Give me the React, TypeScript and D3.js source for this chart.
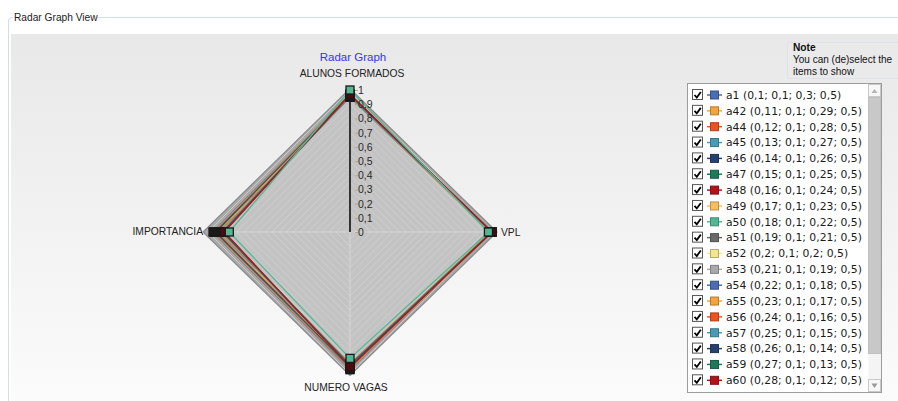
import React from "react";
import * as d3 from "d3";

const axes = ["ALUNOS FORMADOS", "VPL", "NUMERO VAGAS", "IMPORTANCIA"];
const ticks = [0, 0.1, 0.2, 0.3, 0.4, 0.5, 0.6, 0.7, 0.8, 0.9, 1];

const names = ["a1", "a42", "a44", "a45", "a46", "a47", "a48", "a49", "a50", "a51", "a52", "a53", "a54", "a55", "a56", "a57", "a58", "a59", "a60"];
const rawValues = [
  "0,1; 0,1; 0,3; 0,5", "0,11; 0,1; 0,29; 0,5", "0,12; 0,1; 0,28; 0,5", "0,13; 0,1; 0,27; 0,5",
  "0,14; 0,1; 0,26; 0,5", "0,15; 0,1; 0,25; 0,5", "0,16; 0,1; 0,24; 0,5", "0,17; 0,1; 0,23; 0,5",
  "0,18; 0,1; 0,22; 0,5", "0,19; 0,1; 0,21; 0,5", "0,2; 0,1; 0,2; 0,5", "0,21; 0,1; 0,19; 0,5",
  "0,22; 0,1; 0,18; 0,5", "0,23; 0,1; 0,17; 0,5", "0,24; 0,1; 0,16; 0,5", "0,25; 0,1; 0,15; 0,5",
  "0,26; 0,1; 0,14; 0,5", "0,27; 0,1; 0,13; 0,5", "0,28; 0,1; 0,12; 0,5",
];
const colors = ["#4a6db3", "#f4a43c", "#ea5420", "#4a9cb2", "#27416e", "#1f7a5b", "#b3121b", "#f5c062", "#52b894", "#6a6a6a", "#f3e68e", "#a9a9a9", "#4a6db3", "#f4a43c", "#ea5420", "#4a9cb2", "#27416e", "#1f7a5b", "#b3121b"];
// plotted (normalised) values per axis
const valAlunos = [0.97, 0.97, 0.965, 0.965, 0.96, 0.96, 0.955, 0.955, 1.0, 0.95, 0.95, 1.01, 0.95, 0.955, 0.96, 0.96, 0.965, 0.965, 0.97];
const valVpl = [1.0, 1.0, 0.995, 0.995, 0.99, 0.99, 0.99, 0.985, 0.975, 0.985, 0.985, 1.035, 0.99, 0.99, 0.995, 0.995, 1.0, 1.0, 1.0];
const valVagas = [0.97, 0.965, 0.96, 0.955, 0.95, 0.95, 0.945, 0.94, 0.89, 0.94, 0.935, 1.01, 0.935, 0.93, 0.93, 0.935, 0.94, 0.945, 0.95];
const valImport = [0.965, 0.96, 0.955, 0.95, 0.945, 0.94, 0.935, 0.93, 0.85, 0.925, 0.92, 1.035, 0.915, 0.91, 0.905, 0.9, 0.895, 0.89, 0.885];

const W = 898, H = 401;
const cx = 350, cy = 232, R = 142;
const FONT = "'Liberation Sans', Arial, sans-serif";
const LFONT = "'DejaVu Sans', Verdana, sans-serif";

export default function App() {
  const r = d3.scaleLinear().domain([0, 1]).range([0, R]);
  const angle = d3.scaleOrdinal<string, number>().domain(axes).range([0, Math.PI / 2, Math.PI, 1.5 * Math.PI]);
  const pt = (axis: string, v: number): [number, number] => {
    const a = angle(axis);
    return [cx + Math.sin(a) * r(v), cy - Math.cos(a) * r(v)];
  };
  const series = names.map((n, i) => ({
    name: n, color: colors[i], raw: rawValues[i],
    vals: [valAlunos[i], valVpl[i], valVagas[i], valImport[i]],
  }));
  const outerIdx = names.indexOf("a53");
  const topIdx = names.indexOf("a50");
  const order = series.map((_, i) => i).filter((i) => i !== outerIdx && i !== topIdx);
  const drawOrder = [...order, topIdx];
  const line = d3.line<[number, number]>().curve(d3.curveLinearClosed);
  const poly = (s: any) => line(axes.map((a, k) => pt(a, s.vals[k])));
  const rings = d3.range(0.05, 1.0001, 0.05);

  const legendTop = 95, rowH = 15.85;

  return (
    <svg width={W} height={H} style={{ position: "absolute", left: 0, top: 0, background: "#fff" }}>
      <defs>
        <linearGradient id="bg" x1="0" y1="0" x2="0" y2="1">
          <stop offset="0" stopColor="#e8e8e8" />
          <stop offset="1" stopColor="#fbfbfb" />
        </linearGradient>
        <clipPath id="legclip"><rect x={688} y={84} width={181} height={308} /></clipPath>
      </defs>
      {/* fieldset */}
      <path d={`M8.5,${H} V21 Q8.5,17.5 12,17.5 H13 M97,17.5 H${W}`} fill="none" stroke="#d3dde6" />
      <text x={14} y={21} fontFamily={FONT} fontSize={10.2} fill="#222">Radar Graph View</text>
      <rect x={11} y={34} width={W - 11} height={H - 34} fill="url(#bg)" />

      {/* title + axis labels */}
      <text x={353} y={61} textAnchor="middle" fontFamily={FONT} fontSize={11.5} fill="#3434f5">Radar Graph</text>
      <text x={352} y={77} textAnchor="middle" fontFamily={FONT} fontSize={10.3} fill="#222">{axes[0]}</text>
      <text x={501} y={235.5} fontFamily={FONT} fontSize={10.3} fill="#222">{axes[1]}</text>
      <text x={346} y={391} textAnchor="middle" fontFamily={FONT} fontSize={10.3} fill="#222">{axes[2]}</text>
      <text x={203} y={235} textAnchor="end" fontFamily={FONT} fontSize={10.3} fill="#222">{axes[3]}</text>

      {/* outer envelope series */}
      <path d={poly(series[outerIdx]) || ""} fill="#a9a9a9" stroke="#8a8a8a" strokeWidth={1.2} />
      {/* inner fills */}
      {drawOrder.map((i) => (
        <path key={"f" + i} d={poly(series[i]) || ""} fill="#c3c3c3" stroke="none" />
      ))}
      {/* grid */}
      {rings.map((v, k) => (
        <path key={"g" + k} d={line(axes.map((a) => pt(a, v))) || ""} fill="none" stroke="#d2d2d2" strokeWidth={0.8} />
      ))}
      {axes.map((a, k) => {
        const [x, y] = pt(a, 1);
        return <line key={"s" + k} x1={cx} y1={cy} x2={x} y2={y} stroke="#d6d6d6" strokeWidth={1} />;
      })}
      {/* series lines */}
      {drawOrder.map((i) => (
        <path key={"l" + i} d={poly(series[i]) || ""} fill="none" stroke={series[i].color} strokeWidth={1.3} />
      ))}
      {/* vertical scale axis */}
      <line x1={cx} y1={r.range()[0] + cy} x2={cx} y2={cy - r(0.96)} stroke="#333" strokeWidth={2} />
      {ticks.map((t) => (
        <g key={"t" + t}>
          <line x1={cx + 5} x2={cx + 8} y1={cy - r(t) + 0.5} y2={cy - r(t) + 0.5} stroke="#c2a57c" strokeWidth={1} />
          <text x={cx + 8} y={cy - r(t) + 4} fontFamily={FONT} fontSize={10.5} fill="#2a2a2a">{String(t).replace(".", ",")}</text>
        </g>
      ))}
      {/* markers */}
      {drawOrder.map((i) => (
        <g key={"m" + i}>
          {axes.map((a, k) => {
            const [x, y] = pt(a, series[i].vals[k]);
            const c = i === topIdx ? series[i].color : d3.color(series[i].color)!.darker(2.2).toString();
            return <rect key={k} x={x - 4} y={y - 4} width={8} height={8} fill={c} stroke="#1a1a1a" strokeWidth={1.3} />;
          })}
        </g>
      ))}

      {/* note box */}
      <rect x={787.5} y={42.5} width={115} height={36} rx={2} fill="#eaeaea" stroke="#dde3ea" />
      <text x={793} y={51} fontFamily={FONT} fontSize={10.2} fontWeight="bold" fill="#111">Note</text>
      <text x={793} y={63} fontFamily={FONT} fontSize={10} fill="#111">You can (de)select the</text>
      <text x={793} y={75} fontFamily={FONT} fontSize={10} fill="#111">items to show</text>

      {/* legend list box */}
      <rect x={687.5} y={83.5} width={194} height={309} fill="#fff" stroke="#9c9c9c" />
      <g clipPath="url(#legclip)">
        {series.map((s, i) => {
          const y = legendTop + i * rowH;
          return (
            <g key={"lg" + i}>
              <rect x={692.5} y={y - 5.5} width={10} height={10} fill="#fff" stroke="#555" />
              <path d={`M694.5,${y} L696.8,${y + 2.5} L700.8,${y - 3}`} fill="none" stroke="#000" strokeWidth={1.8} />
              <line x1={707} x2={722} y1={y} y2={y} stroke={s.color} strokeWidth={1.5} />
              <rect x={710.5} y={y - 4} width={8} height={8} fill={s.color} stroke={d3.color(s.color)!.darker(0.8).toString()} strokeWidth={1} />
              <text x={726} y={y + 3.8} fontFamily={LFONT} fontSize={10.8} fill="#1a1a1a">{`${s.name} (${s.raw})`}</text>
            </g>
          );
        })}
      </g>
      {/* scrollbar */}
      <rect x={868.5} y={84} width={12.5} height={308} fill="#f4f4f4" />
      <rect x={868.5} y={84.5} width={12} height={12} fill="#f7f7f7" stroke="#c8c8c8" />
      <path d="M871.5,93 L874.5,89 L877.5,93 Z" fill="#b5b5b5" />
      <rect x={868.5} y={97.5} width={12} height={256} fill="#c8c8c8" stroke="#c0c0c0" />
      <rect x={868.5} y={379.5} width={12} height={12} fill="#f7f7f7" stroke="#c8c8c8" />
      <path d="M871.5,383.5 L877.5,383.5 L874.5,388 Z" fill="#999" />
    </svg>
  );
}
